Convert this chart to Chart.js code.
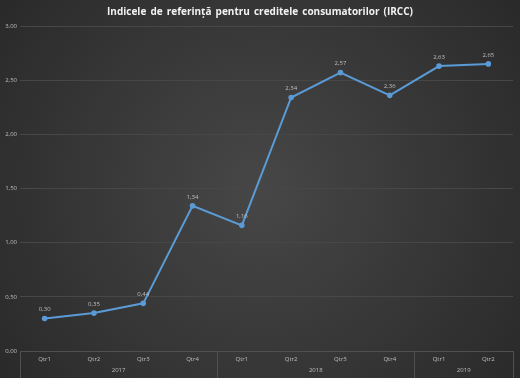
<!DOCTYPE html>
<html><head><meta charset="utf-8">
<script src="https://cdn.jsdelivr.net/npm/chart.js@4"></script>
<style>html,body{margin:0;padding:0;background:#333;}#wrap{width:520px;height:378px;}</style>
</head><body><div id="wrap"><canvas id="c" width="520" height="378"></canvas></div>
<script>
const title = 'Indicele de referință pentru creditele consumatorilor (IRCC)';
const quarters = ['Qtr1','Qtr2','Qtr3','Qtr4','Qtr1','Qtr2','Qtr3','Qtr4','Qtr1','Qtr2'];
const years = ['2017','2018','2019'];
const yearCounts = [4,4,2];
const values = [0.30,0.35,0.44,1.34,1.16,2.34,2.57,2.36,2.63,2.65];
const yTicks = [0,0.5,1,1.5,2,2.5,3];

const fmt = v => v.toFixed(2).replace('.', ',');

const bgPlugin = {
  id:'bg',
  beforeDraw(chart){
    const {ctx,width,height} = chart;
    const g = ctx.createRadialGradient(width/2,height/2,10,width/2,height/2,Math.max(width,height)*0.65);
    g.addColorStop(0,'#464646');
    g.addColorStop(1,'#282828');
    ctx.save();ctx.fillStyle=g;ctx.fillRect(0,0,width,height);
    ctx.fillStyle='#f2f2f2';
    ctx.font='bold 10px "Open Sans", "DejaVu Sans", sans-serif';
    ctx.letterSpacing='0px';
    ctx.wordSpacing='1.5px';
    ctx.textAlign='center';ctx.textBaseline='middle';
    ctx.fillText(title,width/2,12);
    ctx.restore();
  }
};
const groupPlugin = {
  id:'groups',
  afterDraw(chart){
    const {ctx,chartArea} = chart;
    const step = (chartArea.right-chartArea.left)/quarters.length;
    ctx.save();
    ctx.strokeStyle='#505050';ctx.lineWidth=1;
    let idx=0;
    const bounds=[chartArea.left];
    yearCounts.forEach(n=>{idx+=n;bounds.push(chartArea.left+idx*step);});
    bounds.forEach(b=>{ctx.beginPath();ctx.moveTo(Math.round(b)+0.5,chartArea.bottom);ctx.lineTo(Math.round(b)+0.5,chart.height);ctx.stroke();});
    ctx.fillStyle='#bfbfbf';ctx.font='6px "Open Sans", sans-serif';ctx.textAlign='center';ctx.textBaseline='middle';
    years.forEach((y,i)=>{ctx.fillText(y,(bounds[i]+bounds[i+1])/2,chartArea.bottom+19);});
    const meta = chart.getDatasetMeta(0);
    meta.data.forEach((p,i)=>{ctx.fillText(fmt(values[i]),p.x,p.y-9);});
    ctx.restore();
  }
};

new Chart(document.getElementById('c'),{
  type:'line',
  data:{labels:quarters,datasets:[{data:values,borderColor:'#5b9bd5',backgroundColor:'#5b9bd5',borderWidth:2,pointRadius:1.8,pointHoverRadius:1.8,tension:0}]},
  options:{
    responsive:false,animation:false,
    layout:{padding:{top:26,right:7,left:0,bottom:0}},
    plugins:{legend:{display:false},title:{display:false},tooltip:{enabled:false}},
    scales:{
      x:{offset:true,grid:{display:false,drawTicks:false},border:{display:true,color:'#505050'},
        ticks:{color:'#bfbfbf',font:{size:6,family:'"Open Sans", sans-serif'},padding:5,maxRotation:0,autoSkip:false},
        afterFit(s){s.height=27;}},
      y:{min:0,max:3,afterBuildTicks(s){s.ticks=yTicks.map(v=>({value:v}));},
        grid:{color:'#474747',drawTicks:false},border:{display:false},
        ticks:{color:'#bfbfbf',font:{size:6,family:'"Open Sans", sans-serif'},padding:3,callback:v=>fmt(v)},
        afterFit(s){s.width=20;}}
    }
  },
  plugins:[bgPlugin,groupPlugin]
});
</script></body></html>
